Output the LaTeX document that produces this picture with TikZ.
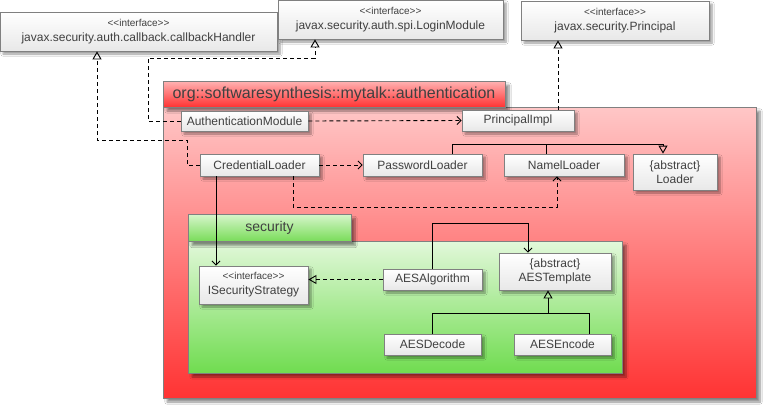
\documentclass[tikz,border=0pt]{standalone}
\usepackage{fontspec}
\setmainfont{Liberation Sans}
\usetikzlibrary{arrows.meta,shadows.blur}
\definecolor{ink}{HTML}{404040}
\definecolor{edge}{HTML}{808080}
\newcommand{\stereo}[1]{{\fontsize{10}{11}\selectfont <{}<#1>{}>}}
\tikzset{
  x=1pt, y=-1pt,
  cls/.style={draw=edge, line width=0.8pt, top color=white, bottom color=black!9,
    text=ink, font=\fontsize{12}{14}\selectfont, align=center, inner sep=1pt,
    blur shadow={shadow xshift=3pt, shadow yshift=-3pt, shadow blur steps=6, shadow opacity=40}},
  pkg/.style={draw=edge, line width=0.8pt, text=ink, inner sep=0pt,
    blur shadow={shadow xshift=4pt, shadow yshift=-4pt, shadow blur steps=8, shadow opacity=45}},
  redtab/.style={pkg, top color=red!30, bottom color=red!80, font=\fontsize{16}{18}\selectfont},
  redbody/.style={pkg, top color=red!22, bottom color=red!80},
  greentab/.style={pkg, top color={rgb,255:red,214;green,245;blue,202}, bottom color={rgb,255:red,120;green,220;blue,88}, font=\fontsize{14}{16}\selectfont},
  greenbody/.style={pkg, top color={rgb,255:red,226;green,248;blue,218}, bottom color={rgb,255:red,112;green,220;blue,80}},
  conn/.style={line width=0.9pt, black},
  dep/.style={conn, dash pattern=on 4pt off 3pt, -{Straight Barb[length=4pt,width=8pt]}},
  real/.style={conn, dash pattern=on 4pt off 3pt, -{Triangle[open,length=8pt,width=9pt]}},
  gen/.style={conn, -{Triangle[open,length=8pt,width=9pt]}},
  assoc/.style={conn, -{Straight Barb[length=4pt,width=8pt]}},
}
\begin{document}
\begin{tikzpicture}
\useasboundingbox (0,0) rectangle (772,413);
\fill[white] (0,0) rectangle (772,413);

% packages
\node[redbody, minimum width=593pt, minimum height=291pt] (authbody) at (459.5,252.5) {};
\node[redtab, minimum width=342pt, minimum height=26pt] (authtab) at (334,94) {org::softwaresynthesis::mytalk::authentication};
\node[greenbody, minimum width=434pt, minimum height=132pt] (secbody) at (405,307) {};
\node[greentab, minimum width=163pt, minimum height=27pt] (sectab) at (269.5,228) {security};

% external interfaces
\node[cls, minimum width=277pt, minimum height=39pt] (cbh) at (138.5,31.5) {\stereo{interface}\\[1pt] javax.security.auth.callback.callbackHandler};
\node[cls, minimum width=225pt, minimum height=39pt] (login) at (390.5,19.5) {\stereo{interface}\\[1pt] javax.security.auth.spi.LoginModule};
\node[cls, minimum width=188pt, minimum height=39pt] (principal) at (615,20.5) {\stereo{interface}\\[1pt] javax.security.Principal};

% authentication classes
\node[cls, minimum width=127pt, minimum height=20pt] (authmod) at (244.5,121) {AuthenticationModule};
\node[cls, minimum width=112pt, minimum height=21pt] (pimpl) at (518,120.5) {PrincipalImpl};
\node[cls, minimum width=119pt, minimum height=22pt] (cred) at (259.5,165) {CredentialLoader};
\node[cls, minimum width=119pt, minimum height=22pt] (pass) at (422.5,165) {PasswordLoader};
\node[cls, minimum width=120pt, minimum height=22pt] (namel) at (564,165) {NamelLoader};
\node[cls, minimum width=84pt, minimum height=36pt] (loader) at (675,172) {\{abstract\}\\ Loader};

% security classes
\node[cls, minimum width=109pt, minimum height=38pt] (iss) at (253.5,285) {\stereo{interface}\\[1pt] ISecurityStrategy};
\node[cls, minimum width=99pt, minimum height=21pt] (aesalg) at (432.5,279.5) {AESAlgorithm};
\node[cls, minimum width=112pt, minimum height=37pt] (aestmp) at (555,271.5) {\{abstract\}\\ AESTemplate};
\node[cls, minimum width=97pt, minimum height=21pt] (aesdec) at (432.5,344.5) {AESDecode};
\node[cls, minimum width=97pt, minimum height=21pt] (aesenc) at (562.5,344.5) {AESEncode};

% realizations of external interfaces
\draw[real] (authmod.west) -| (148,58) -| (315,0 |- login.south);
\draw[real] (cred.west) -| (187,140) -| (97,0 |- cbh.south);
\draw[real] (558,0 |- pimpl.north) -- (558,0 |- principal.south);

% dependencies
\draw[dep] (authmod.east) -- (pimpl.west);
\draw[dep] (cred.east) -- (pass.west);
\draw[dep] (293,0 |- cred.south) |- (557,207) -- (557,0 |- namel.south);
\draw[assoc] (216,0 |- cred.south) -- (216,0 |- iss.north);

% loader hierarchy
\draw[gen] (452,0 |- pass.north) |- (663,144) -- (663,0 |- loader.north);
\draw[conn] (546,0 |- namel.north) -- (546,144);

% security relations
\draw[real] (aesalg.west) -- (iss.east |- aesalg.west);
\draw[assoc] (aesalg.north) |- (528,223) -- (528,0 |- aestmp.north);
\draw[conn] (aesdec.north) |- (589,313) -- (589,0 |- aesenc.north);
\draw[gen] (548,313) -- (548,0 |- aestmp.south);
\end{tikzpicture}
\end{document}
